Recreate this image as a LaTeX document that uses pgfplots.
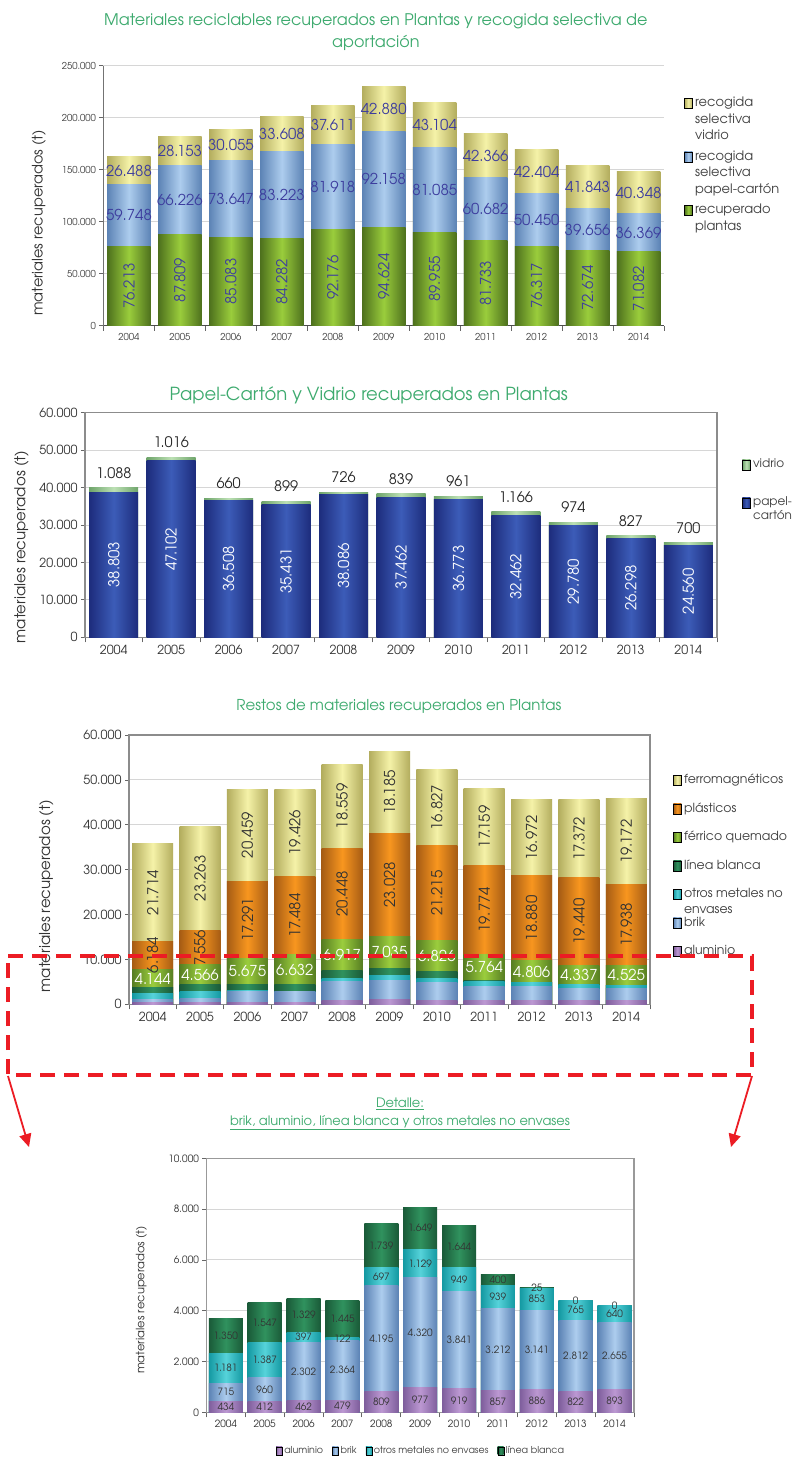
\documentclass[border=0pt]{standalone}
\usepackage{fontspec}
\setmainfont{TeX Gyre Adventor}
\usepackage{pgfplots}
\pgfplotsset{compat=1.18}
\usepackage{pgfplotstable}
\usetikzlibrary{arrows.meta}

\definecolor{ttl}{HTML}{3DAA6E}
\definecolor{yL}{HTML}{F5F2A8}\definecolor{yD}{HTML}{B3AD5E}
\definecolor{bL}{HTML}{ADCDEE}\definecolor{bD}{HTML}{5C83B5}
\definecolor{gL}{HTML}{9ACD3C}\definecolor{gD}{HTML}{4D701D}
\definecolor{navy}{HTML}{3D3D9E}
\definecolor{pL}{HTML}{3C5CB8}\definecolor{pD}{HTML}{1D2C7C}
\definecolor{vL}{HTML}{BCE0B4}\definecolor{vD}{HTML}{6EA46A}
\definecolor{oL}{HTML}{F8961F}\definecolor{oD}{HTML}{A65C14}
\definecolor{fL}{HTML}{9BCD3D}\definecolor{fD}{HTML}{567D22}
\definecolor{lL}{HTML}{30925E}\definecolor{lD}{HTML}{1A5A38}
\definecolor{tL}{HTML}{56D3DA}\definecolor{tD}{HTML}{1499A2}
\definecolor{aL}{HTML}{BC98D2}\definecolor{aD}{HTML}{7E5E9C}
\definecolor{lab}{HTML}{333333}
\definecolor{grd}{HTML}{D6D6D6}
\definecolor{rd}{HTML}{EC1C24}

\newcommand{\stk}[2]{\vtop{\baselineskip=#1\relax #2}}
\newcommand{\fs}[1]{\fontsize{#1}{#1}\selectfont}

\pgfplotstableread{
x pl pc vi
0 76213 59748 26488
1 87809 66226 28153
2 85083 73647 30055
3 84282 83223 33608
4 92176 81918 37611
5 94624 92158 42880
6 89955 81085 43104
7 81733 60682 42366
8 76317 50450 42404
9 72674 39656 41843
10 71082 36369 40348
}\tabA

\pgfplotstableread{
x pc vi
0 38803 1088
1 47102 1016
2 36508 660
3 35431 899
4 38086 726
5 37462 839
6 36773 961
7 32462 1166
8 29780 974
9 26298 827
10 24560 700
}\tabB

\pgfplotstableread{
x al br ot lb fe pl fm
0 434 715 1181 1350 4144 6184 21714
1 412 960 1387 1547 4566 7556 23263
2 462 2302 397 1329 5675 17291 20459
3 479 2364 122 1445 6632 17484 19426
4 809 4195 697 1739 6917 20448 18559
5 977 4320 1129 1649 7035 23028 18185
6 919 3841 949 1644 6826 21215 16827
7 857 3212 939 400 5764 19774 17159
8 886 3141 853 25 4806 18880 16972
9 822 2812 765 0 4337 19440 17372
10 893 2655 640 0 4525 17938 19172
}\tabC

\pgfplotsset{
  cyl/.style 2 args={draw=none, left color=#1, right color=#1, middle color=#2, forget plot},
  lgimg/.style 2 args={legend image code/.code={\shade[left color=#1,right color=#1,middle color=#2] (0pt,-5pt) rectangle (8pt,5pt); \path (10.5pt,0pt);}},
  lgimgS/.style 2 args={legend image code/.code={\shade[left color=#1,right color=#1,middle color=#2] (0pt,-4pt) rectangle (6pt,4pt); \path (8pt,0pt);}},
  lbl/.style={draw=none, fill=none, forget plot, nodes near coords, point meta=explicit,
    every node near coord/.append style={anchor=center, inner sep=0pt}},
  base/.style={scale only axis, anchor=south west,
    xmin=-0.5, xmax=10.5, ymin=0,
    ybar, every axis plot/.append style={bar shift=0pt},
    xtick={0,...,10},
    xticklabels={2004,2005,2006,2007,2008,2009,2010,2011,2012,2013,2014},
    minor xtick={-0.5,0.5,...,10.5},
    major x tick style={draw=none},
    minor x tick style={draw=black!60, line width=0.8pt},
    major y tick style={draw=black!60, line width=0.8pt},
    tick align=outside, major tick length=4pt, minor tick length=5pt,
    scaled y ticks=false,
    /pgf/number format/fixed, /pgf/number format/precision=0,
    /pgf/number format/1000 sep={.},
    /pgf/number format/assume math mode=true,
    ymajorgrids, grid style={draw=grd, line width=1pt},
    legend cell align=left,
  },
}

\begin{document}
\begin{tikzpicture}
\fill[white] (0,0) rectangle (792pt,-1457pt);
\useasboundingbox (0,0) rectangle (792pt,-1457pt);

%% ---------------- Chart 1
\begin{axis}[base, at={(103.5pt,-325.7pt)}, width=560.5pt, height=260pt,
  ymax=250000, ytick={0,50000,...,250000}, bar width=43.5pt,
  axis x line*=bottom, axis y line*=left,
  x axis line style={draw=black!70, line width=0.9pt},
  y axis line style={draw=black!55, line width=0.9pt},
  tick label style={font=\fs{9.5}, text=black!75},
  ylabel={materiales recuperados (t)},
  ylabel style={at={(axis description cs:-0.1151,0.395)}, anchor=center, font=\fs{14.5}, text=black!80},
  title={Materiales reciclables recuperados en Plantas y recogida selectiva de\\aportación},
  title style={at={(axis description cs:0.486,1.1335)}, anchor=center, yshift=-7pt, align=center, font=\fontsize{16}{22}\selectfont, text=ttl},
  legend style={at={(axis description cs:1.0357,0.8815)}, anchor=north west, draw=none, fill=none,
    inner sep=0pt, row sep=40.5pt, font=\fs{13}, text=black!75,
    nodes={inner sep=0pt, text height=10pt, text depth=3pt}},
]
\pgfplotsinvokeforeach{0,...,10}{
\addplot[cyl={yD}{yL}, restrict x to domain=#1:#1] table[x=x, y expr=\thisrow{pl}+\thisrow{pc}+\thisrow{vi}] {\tabA};
\addplot[cyl={bD}{bL}, restrict x to domain=#1:#1] table[x=x, y expr=\thisrow{pl}+\thisrow{pc}] {\tabA};
\addplot[cyl={gD}{gL}, restrict x to domain=#1:#1] table[x=x, y=pl] {\tabA};
}
\addplot[lbl, every node near coord/.append style={rotate=90, text=navy, font=\fs{15}}] table[x=x, y expr=\thisrow{pl}/2, meta=pl] {\tabA};
\addplot[lbl, every node near coord/.append style={text=navy, font=\fs{15}}] table[x=x, y expr=\thisrow{pl}+\thisrow{pc}/2, meta=pc] {\tabA};
\addplot[lbl, every node near coord/.append style={text=navy, font=\fs{15}}] table[x=x, y expr=\thisrow{pl}+\thisrow{pc}+\thisrow{vi}/2, meta=vi] {\tabA};
\addlegendimage{lgimg={yD}{yL}}
\addlegendentry{\stk{16.5pt}{\hbox{recogida}\hbox{selectiva}\hbox{vidrio}}}
\addlegendimage{lgimg={bD}{bL}}
\addlegendentry{\stk{16.5pt}{\hbox{recogida}\hbox{selectiva}\hbox{papel-cartón}}}
\addlegendimage{lgimg={gD}{gL}}
\addlegendentry{\stk{16.5pt}{\hbox{recuperado}\hbox{plantas}}}
\end{axis}

%% ---------------- Chart 2
\begin{axis}[base, at={(85pt,-637.3pt)}, width=632pt, height=224.6pt,
  ymax=60000, ytick={0,10000,...,60000}, bar width=49pt,
  axis line style={draw=black!45, line width=1.2pt}, tick pos=left,
  tick label style={font=\fs{12.5}, text=black!80},
  ylabel={materiales recuperados (t)},
  ylabel style={at={(axis description cs:-0.1005,0.402)}, anchor=center, font=\fs{15}, text=black!80},
  title={Papel-Cartón y Vidrio recuperados en Plantas},
  title style={at={(axis description cs:0.449,1.0833)}, anchor=center, yshift=-7pt, font=\fs{18}, text=ttl},
  legend style={at={(axis description cs:1.0395,0.796)}, anchor=north west, draw=none, fill=none,
    inner sep=0pt, row sep=26pt, font=\fs{12}, text=black!75,
    nodes={inner sep=0pt, text height=9pt, text depth=3pt}},
]
\pgfplotsinvokeforeach{0,...,10}{
\addplot[cyl={vD}{vL}, restrict x to domain=#1:#1] table[x=x, y expr=\thisrow{pc}+\thisrow{vi}] {\tabB};
\addplot[cyl={pD}{pL}, restrict x to domain=#1:#1] table[x=x, y=pc] {\tabB};
}
\addplot[lbl, every node near coord/.append style={rotate=90, text=white, font=\fs{15}}] table[x=x, y expr=\thisrow{pc}/2, meta=pc] {\tabB};
\addplot[lbl, every node near coord/.append style={anchor=south, yshift=9pt, text=black!85, font=\fs{14.5}}] table[x=x, y expr=\thisrow{pc}+\thisrow{vi}, meta=vi] {\tabB};
\addlegendimage{lgimg={vD}{vL}}
\addlegendentry{vidrio}
\addlegendimage{lgimg={pD}{pL}}
\addlegendentry{\stk{14pt}{\hbox{papel-}\hbox{cartón}}}
\end{axis}

%% ---------------- Chart 3
\begin{axis}[base, at={(129pt,-1004.3pt)}, width=521pt, height=269.3pt,
  ymax=60000, ytick={0,10000,...,60000}, bar width=41pt,
  axis line style={draw=black!45, line width=1.2pt}, tick pos=left,
  tick label style={font=\fs{12.5}, text=black!80},
  ylabel={materiales recuperados (t)},
  ylabel style={at={(axis description cs:-0.159,0.402)}, anchor=center, font=\fs{15}, text=black!80},
  title={Restos de materiales recuperados en Plantas},
  title style={at={(axis description cs:0.518,1.111)}, anchor=center, yshift=-7pt, font=\fs{15}, text=ttl},
  legend style={at={(axis description cs:1.0441,0.857)}, anchor=north west, draw=none, fill=none,
    inner sep=0pt, row sep=15.5pt, font=\fs{12.5}, text=black!75,
    nodes={inner sep=0pt, text height=10pt, text depth=3pt}},
]
\pgfplotsinvokeforeach{0,...,10}{
\addplot[cyl={yD}{yL}, restrict x to domain=#1:#1] table[x=x, y expr=\thisrow{al}+\thisrow{br}+\thisrow{ot}+\thisrow{lb}+\thisrow{fe}+\thisrow{pl}+\thisrow{fm}] {\tabC};
\addplot[cyl={oD}{oL}, restrict x to domain=#1:#1] table[x=x, y expr=\thisrow{al}+\thisrow{br}+\thisrow{ot}+\thisrow{lb}+\thisrow{fe}+\thisrow{pl}] {\tabC};
\addplot[cyl={fD}{fL}, restrict x to domain=#1:#1] table[x=x, y expr=\thisrow{al}+\thisrow{br}+\thisrow{ot}+\thisrow{lb}+\thisrow{fe}] {\tabC};
\addplot[cyl={lD}{lL}, restrict x to domain=#1:#1] table[x=x, y expr=\thisrow{al}+\thisrow{br}+\thisrow{ot}+\thisrow{lb}] {\tabC};
\addplot[cyl={tD}{tL}, restrict x to domain=#1:#1] table[x=x, y expr=\thisrow{al}+\thisrow{br}+\thisrow{ot}] {\tabC};
\addplot[cyl={bD}{bL}, restrict x to domain=#1:#1] table[x=x, y expr=\thisrow{al}+\thisrow{br}] {\tabC};
\addplot[cyl={aD}{aL}, restrict x to domain=#1:#1] table[x=x, y=al] {\tabC};
}
\addplot[lbl, every node near coord/.append style={rotate=90, text=lab, font=\fs{15}}] table[x=x, y expr=\thisrow{al}+\thisrow{br}+\thisrow{ot}+\thisrow{lb}+\thisrow{fe}+\thisrow{pl}+\thisrow{fm}/2, meta=fm] {\tabC};
\addplot[lbl, every node near coord/.append style={rotate=90, text=lab, font=\fs{15}}] table[x=x, y expr=\thisrow{al}+\thisrow{br}+\thisrow{ot}+\thisrow{lb}+\thisrow{fe}+\thisrow{pl}/2, meta=pl] {\tabC};
\addplot[lbl, every node near coord/.append style={text=white, font=\fs{15}}] table[x=x, y expr=\thisrow{al}+\thisrow{br}+\thisrow{ot}+\thisrow{lb}+\thisrow{fe}/2, meta=fe] {\tabC};
\addlegendimage{lgimg={yD}{yL}}\addlegendentry{ferromagnéticos}
\addlegendimage{lgimg={oD}{oL}}\addlegendentry{plásticos}
\addlegendimage{lgimg={fD}{fL}}\addlegendentry{férrico quemado}
\addlegendimage{lgimg={lD}{lL}}\addlegendentry{línea blanca}
\addlegendimage{lgimg={tD}{tL}}\addlegendentry{\stk{16pt}{\hbox{otros metales no}\hbox{envases}}}
\addlegendimage{lgimg={bD}{bL}}\addlegendentry{brik}
\addlegendimage{lgimg={aD}{aL}}\addlegendentry{aluminio}
\end{axis}

%% ---------------- Chart 4
\begin{axis}[base, at={(206.4pt,-1412.3pt)}, width=427.6pt, height=254pt,
  ymax=10000, ytick={0,2000,...,10000}, bar width=34pt,
  axis line style={draw=black!40, line width=1.1pt}, tick pos=left,
  tick label style={font=\fs{10}, text=black!80},
  ylabel={materiales recuperados (t)},
  ylabel style={at={(axis description cs:-0.1518,0.442)}, anchor=center, font=\fs{11.5}, text=black!80},
  title={\underline{Detalle:}\\\underline{brik, aluminio, línea blanca y otros metales no envases}},
  title style={at={(axis description cs:0.4528,1.182)}, anchor=center, yshift=-8pt, align=center, font=\fontsize{13}{18}\selectfont, text=ttl},
  legend columns=4,
  legend style={at={(axis description cs:0.4995,-0.152)}, anchor=center, draw=none, fill=none,
    inner sep=0pt, font=\fs{9.5}, text=black!75,
    nodes={inner sep=0pt, text height=7pt, text depth=2pt},
    /tikz/every even column/.append style={column sep=9pt}},
]
\pgfplotsinvokeforeach{0,...,10}{
\addplot[cyl={lD}{lL}, restrict x to domain=#1:#1] table[x=x, y expr=\thisrow{al}+\thisrow{br}+\thisrow{ot}+\thisrow{lb}] {\tabC};
\addplot[cyl={tD}{tL}, restrict x to domain=#1:#1] table[x=x, y expr=\thisrow{al}+\thisrow{br}+\thisrow{ot}] {\tabC};
\addplot[cyl={bD}{bL}, restrict x to domain=#1:#1] table[x=x, y expr=\thisrow{al}+\thisrow{br}] {\tabC};
\addplot[cyl={aD}{aL}, restrict x to domain=#1:#1] table[x=x, y=al] {\tabC};
}
\addplot[lbl, every node near coord/.append style={text=lab, font=\fs{10}}] table[x=x, y expr=\thisrow{al}/2, meta=al] {\tabC};
\addplot[lbl, every node near coord/.append style={text=lab, font=\fs{10}}] table[x=x, y expr=\thisrow{al}+\thisrow{br}/2, meta=br] {\tabC};
\addplot[lbl, every node near coord/.append style={text=lab, font=\fs{10}}] table[x=x, y expr=\thisrow{al}+\thisrow{br}+\thisrow{ot}/2, meta=ot] {\tabC};
\addplot[lbl, every node near coord/.append style={text=lab, font=\fs{10}}] table[x=x, y expr=\thisrow{al}+\thisrow{br}+\thisrow{ot}+\thisrow{lb}/2, meta=lb] {\tabC};
\addlegendimage{lgimgS={aD}{aL}}\addlegendentry{aluminio}
\addlegendimage{lgimgS={bD}{bL}}\addlegendentry{brik}
\addlegendimage{lgimgS={tD}{tL}}\addlegendentry{otros metales no envases}
\addlegendimage{lgimgS={lD}{lL}}\addlegendentry{línea blanca}
\end{axis}

%% ---------------- red dashed frame and arrows
\draw[rd, line width=3.5pt, dash pattern=on 15pt off 9pt] (8pt,-956pt) -- (752pt,-956pt) -- (752pt,-1075pt) -- (8pt,-1075pt) -- cycle;
\draw[rd, line width=1.8pt, -{Triangle[length=13pt,width=12pt]}] (8pt,-1076pt) -- (29pt,-1147pt);
\draw[rd, line width=1.8pt, -{Triangle[length=13pt,width=12pt]}] (752pt,-1076pt) -- (731pt,-1147pt);
\end{tikzpicture}
\end{document}
